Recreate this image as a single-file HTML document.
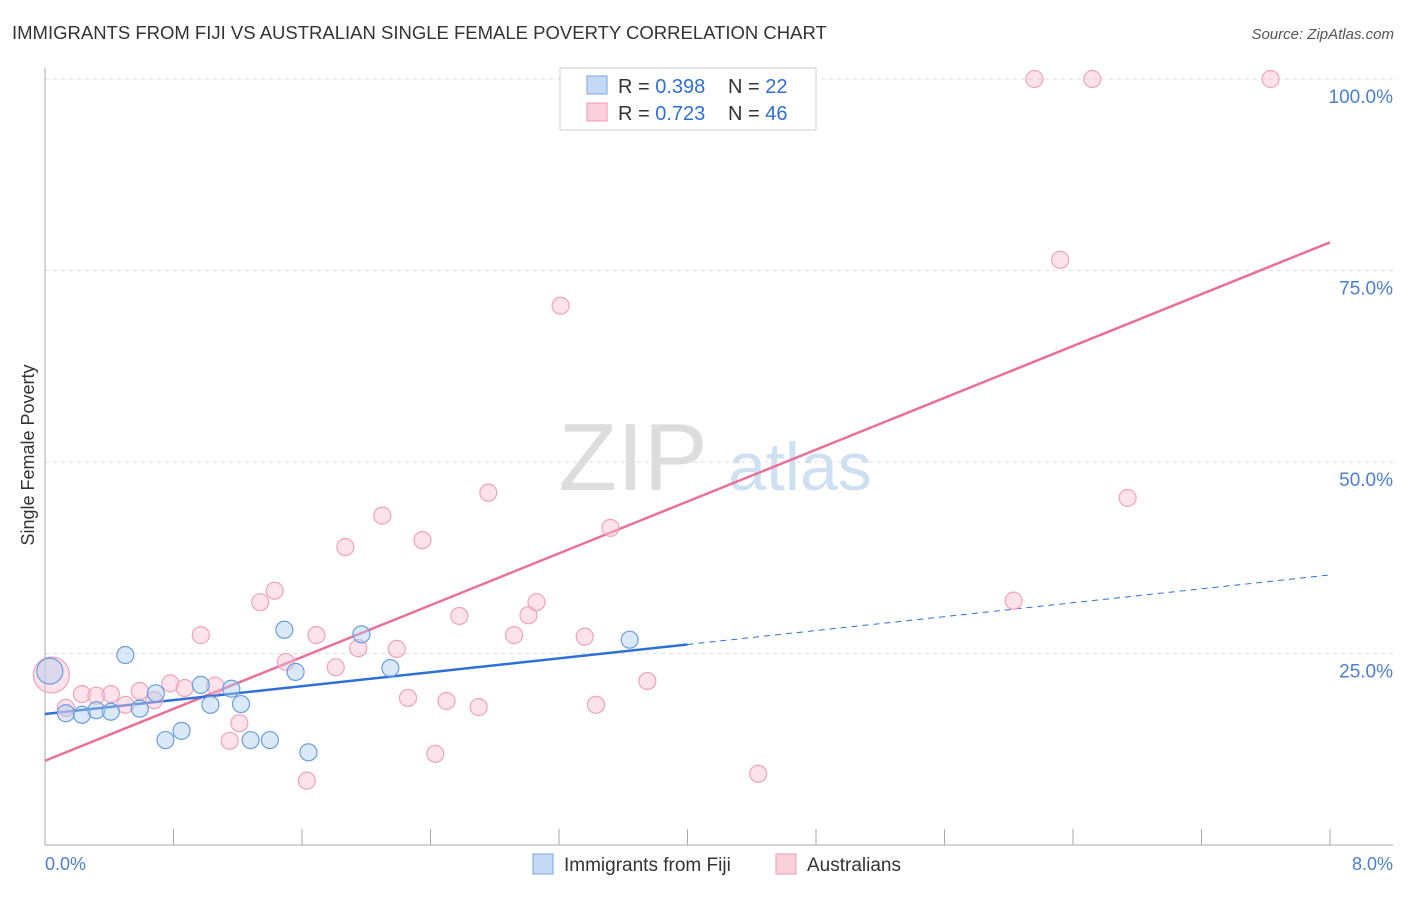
<!DOCTYPE html>
<html><head><meta charset="utf-8"><style>
body{margin:0;background:#fff;font-family:"Liberation Sans",sans-serif;}
svg text{font-family:"Liberation Sans",sans-serif;}
</style></head><body>
<svg id="chart" width="1406" height="892" xmlns="http://www.w3.org/2000/svg">
<text x="12" y="39" font-size="18.5" fill="#333">IMMIGRANTS FROM FIJI VS AUSTRALIAN SINGLE FEMALE POVERTY CORRELATION CHART</text>
<text x="1394" y="39" font-size="15" fill="#555" font-style="italic" text-anchor="end">Source: ZipAtlas.com</text>
<g>
<text x="633" y="490" font-size="96" fill="#ddd" font-family="Liberation Serif,serif" text-anchor="middle">ZIP</text>
<text x="800" y="490" font-size="68" fill="#cfe0f3" text-anchor="middle">atlas</text>
</g>
<g id="grid"></g>
<g id="axes"></g>
<g id="lines"></g>
<g id="points"></g>
<text transform="translate(34,455) rotate(-90)" font-size="18" fill="#333" text-anchor="middle">Single Female Poverty</text>
<text x="45" y="870" font-size="18" fill="#4a7fd0">0.0%</text>
<text x="1393" y="870" font-size="18" fill="#4a7fd0" text-anchor="end">8.0%</text>
<g>
<rect x="560" y="68" width="256" height="62" fill="#fff" stroke="#ccc"/>
<rect x="587" y="76" width="20" height="18" fill="#c4d9f5" stroke="#7aa6e0"/>
<rect x="587" y="103" width="20" height="18" fill="#fbd0dd" stroke="#ee9ab4"/>
<text x="618" y="93" font-size="20" fill="#333">R = <tspan fill="#2f6fd6">0.398</tspan><tspan x="728">N = </tspan><tspan fill="#2f6fd6">22</tspan></text>
<text x="618" y="120" font-size="20" fill="#333">R = <tspan fill="#2f6fd6">0.723</tspan><tspan x="728">N = </tspan><tspan fill="#2f6fd6">46</tspan></text>
</g>
<g>
<rect x="533" y="854" width="20" height="20" fill="#c4d9f5" stroke="#7aa6e0"/>
<text x="564" y="871" font-size="19" fill="#333">Immigrants from Fiji</text>
<rect x="776" y="854" width="20" height="20" fill="#fbd0dd" stroke="#ee9ab4"/>
<text x="807" y="871" font-size="19" fill="#333">Australians</text>
</g>
</svg>
<script>
const yTicks=[25,50,75,100];
const yTickLabels=["25.0%","50.0%","75.0%","100.0%"];
const xTicks=[0,0.8,1.6,2.4,3.2,4.0,4.8,5.6,6.4,7.2,8.0];
const fijiX=[0.03,0.13,0.23,0.32,0.41,0.50,0.59,0.69,0.75,0.85,0.97,1.03,1.16,1.22,1.28,1.40,1.49,1.56,1.64,1.97,2.15,3.64];
const fijiY=[22.7,17.2,17.0,17.6,17.4,24.8,17.8,19.8,13.7,14.9,20.9,18.3,20.4,18.4,13.7,13.7,28.1,22.6,12.1,27.5,23.1,26.8];
const ausX=[0.04,0.13,0.23,0.32,0.41,0.50,0.59,0.68,0.78,0.87,0.97,1.06,1.15,1.21,1.34,1.43,1.50,1.63,1.69,1.81,1.87,1.95,2.10,2.19,2.26,2.35,2.43,2.50,2.58,2.70,2.76,2.92,3.01,3.06,3.21,3.36,3.43,3.52,3.75,4.44,6.03,6.16,6.32,6.52,6.74,7.63];
const ausY=[22.2,17.9,19.7,19.5,19.7,18.3,20.1,18.9,21.1,20.5,27.4,20.8,13.6,15.9,31.7,33.2,23.9,8.4,27.4,23.2,38.9,25.7,43.0,25.6,19.2,39.8,11.9,18.8,29.9,18.0,46.0,27.4,30.0,31.7,70.4,27.2,18.3,41.4,21.4,9.3,31.9,100,76.4,100,45.3,100];
const fijiTrend=[17.1,2.27];
const ausTrend=[11.0,8.46];
const X=v=>45+v/8*1285;
const Y=v=>845-v*7.66;
const NS="http://www.w3.org/2000/svg";
function mk(t,a,p){const e=document.createElementNS(NS,t);for(const k in a)e.setAttribute(k,a[k]);p.appendChild(e);return e;}
const grid=document.getElementById('grid');
yTicks.forEach((t,i)=>{
 const l=mk('line',{x1:45,x2:1393,y1:Y(t),y2:Y(t),stroke:'#ddd','stroke-dasharray':'4,4'},grid);
 
 
 const tx=mk('text',{x:1393,y:Y(t)+24,'font-size':19,fill:'#4a7fd0','text-anchor':'end'},grid);
 tx.textContent=yTickLabels[i];
 
 
});
const axes=document.getElementById('axes');
const ya=mk('line',{x1:45,x2:45,y1:68,y2:845,stroke:'#aaa'},axes);


const xa=mk('line',{x1:45,x2:1393,y1:845,y2:845,stroke:'#aaa'},axes);


xTicks.forEach(t=>{
 const l=mk('line',{x1:X(t),x2:X(t),y1:829,y2:845,stroke:'#aaa'},axes);
 
 
});
const pts=document.getElementById('points');
function dot(x,y,fill,stroke,r,name){
 const c=mk('circle',{cx:X(x),cy:Y(y),r:r,fill:fill,stroke:stroke,'stroke-width':1.2},pts);
 
 
}
ausX.forEach((x,i)=>dot(x,ausY[i],'rgba(248,190,208,0.45)','#efa3bb',i===0?18:8.5,'australians-point'));
fijiX.forEach((x,i)=>dot(x,fijiY[i],'rgba(175,205,240,0.45)','#6a9de0',i===0?13:8.5,'fiji-point'));
const lines=document.getElementById('lines');
const pl=mk('line',{x1:X(0),y1:Y(ausTrend[0]),x2:X(8),y2:Y(ausTrend[0]+8*ausTrend[1]),stroke:'#e8709a','stroke-width':2.5},lines);


const bl=mk('line',{x1:X(0),y1:Y(fijiTrend[0]),x2:X(4),y2:Y(fijiTrend[0]+4*fijiTrend[1]),stroke:'#2f6fd6','stroke-width':2.5},lines);


const bd=mk('line',{x1:X(4),y1:Y(fijiTrend[0]+4*fijiTrend[1]),x2:X(8),y2:Y(fijiTrend[0]+8*fijiTrend[1]),stroke:'#2f6fd6','stroke-width':1,'stroke-dasharray':'6,5'},lines);


</script>
</body></html>
